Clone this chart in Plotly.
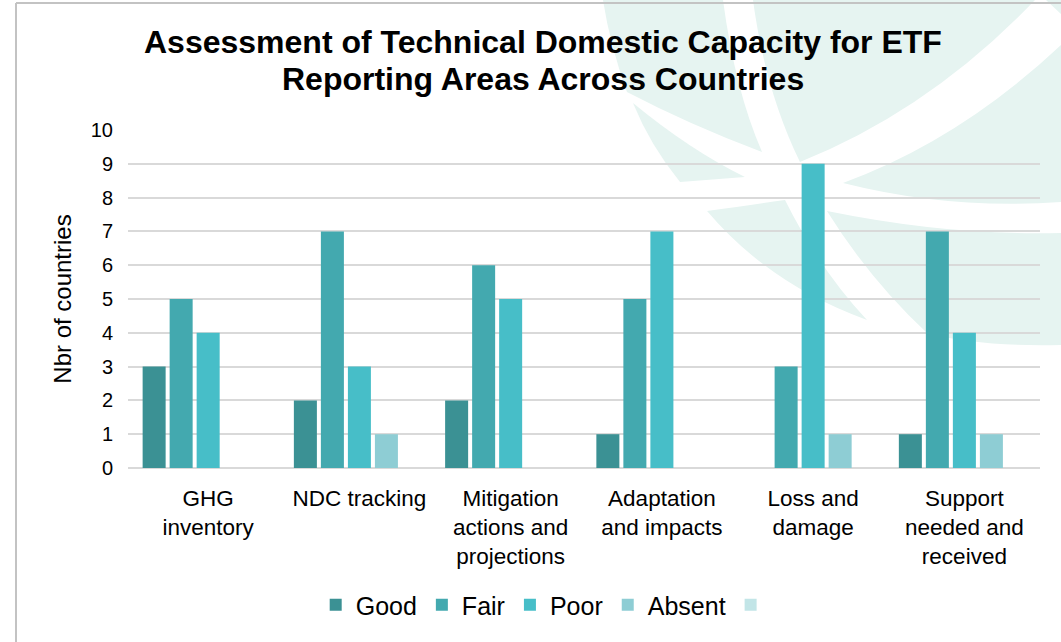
import plotly.graph_objects as go

categories = ["GHG<br>inventory", "NDC tracking", "Mitigation<br>actions and<br>projections",
              "Adaptation<br>and impacts", "Loss and<br>damage", "Support<br>needed and<br>received"]
good = [3, 2, 2, 1, None, 1]
fair = [5, 7, 6, 5, 3, 7]
poor = [4, 3, 5, 7, 9, 4]
absent = [None, 1, None, None, 1, 1]
blank = [None, None, None, None, None, None]

series = [("Good", good, "#3b9194"), ("Fair", fair, "#43a9af"),
          ("Poor", poor, "#47bec8"), ("Absent", absent, "#8ecdd4"), ("", blank, "#c2e5e7")]

W, H = 1061, 642
L, R, T, B = 128, 1040, 130, 468   # plot area in page pixels


def px(x, y):
    return (x - L) / (R - L), (B - y) / (B - T)


def path(cmds):
    out = []
    for c in cmds:
        op, pts = c[0], c[1:]
        coords = []
        for i in range(0, len(pts), 2):
            a, b = px(pts[i], pts[i + 1])
            coords.append(f"{a:.4f},{b:.4f}")
        out.append(op + " " + " ".join(coords))
    return " ".join(out) + " Z"


mint = "#e6f4f1"
deco = [
    [("M", 603, 0), ("L", 723, 0), ("Q", 735, 90, 762, 152), ("Q", 690, 125, 627, 92), ("Q", 610, 45, 603, 0)],
    [("M", 633, 103), ("Q", 690, 150, 745, 177), ("L", 680, 182), ("Q", 650, 145, 633, 103)],
    [("M", 753, 0), ("L", 1035, 0), ("Q", 930, 110, 800, 162), ("Q", 765, 90, 753, 0)],
    [("M", 843, 183), ("Q", 960, 140, 1061, 45), ("L", 1061, 202), ("Q", 950, 210, 843, 183)],
    [("M", 707, 211), ("Q", 750, 205, 785, 200), ("Q", 820, 270, 867, 320), ("Q", 770, 285, 707, 211)],
    [("M", 827, 211), ("Q", 950, 236, 1061, 233), ("L", 1061, 345), ("Q", 980, 347, 927, 333), ("Q", 870, 280, 827, 211)],
    [("M", 1046, 0), ("L", 1061, 0), ("L", 1061, 14)],
]

shapes = []
for d in deco:
    shapes.append(dict(type="path", xref="paper", yref="paper", path=path(d),
                       fillcolor=mint, line=dict(width=0), layer="below"))

x0, y0 = px(16, 3)
x1, _ = px(W + 10, 0)
_, y1 = px(0, H + 10)
shapes.append(dict(type="line", xref="paper", yref="paper", x0=x0, x1=x0, y0=y0, y1=y1,
                   line=dict(color="#c3c3c3", width=2), layer="below"))
shapes.append(dict(type="line", xref="paper", yref="paper", x0=x0, x1=x1, y0=y0, y1=y0,
                   line=dict(color="#c3c3c3", width=2), layer="below"))

fig = go.Figure()
for name, vals, col in series:
    fig.add_trace(go.Bar(x=categories, y=vals, name=name, marker=dict(color=col, line=dict(width=0))))

font = "Liberation Sans, Arial, sans-serif"
title_lines = ["Assessment of Technical Domestic Capacity for ETF", "Reporting Areas Across Countries"]
annotations = []
for txt, yc in zip(title_lines, [42, 79]):
    ax, ay = px(543, yc)
    annotations.append(dict(text=f"<b>{txt}</b>", xref="paper", yref="paper", x=ax, y=ay,
                            xanchor="center", yanchor="middle", showarrow=False,
                            font=dict(size=32, family=font, color="#000000")))

fig.update_layout(
    width=W, height=H,
    paper_bgcolor="white", plot_bgcolor="rgba(0,0,0,0)",
    font=dict(family=font, color="#000000"),
    margin=dict(l=L, r=W - R, t=T, b=H - B, pad=0),
    barmode="group", bargap=0.107, bargroupgap=0.148,
    showlegend=True,
    legend=dict(orientation="h", x=0.458, xanchor="center", y=px(0, 605)[1], yanchor="middle",
                font=dict(size=25), itemwidth=30, traceorder="normal", bgcolor="rgba(0,0,0,0)"),
    xaxis=dict(tickfont=dict(size=22.5), showline=False, ticks="", ticklabelstandoff=14,
               range=[-0.53, 5.5]),
    yaxis=dict(range=[0, 10], dtick=1, tickfont=dict(size=20), gridcolor="#d9d9d9", gridwidth=2,
               zeroline=True, zerolinecolor="#d9d9d9", zerolinewidth=2, ticks="", ticklabelstandoff=14,
               title=dict(text="Nbr of countries", font=dict(size=24), standoff=12)),
    shapes=shapes,
    annotations=annotations,
)
fig.write_html("out.html", config={"displayModeBar": False},
               post_script="document.body.style.margin='0';")
